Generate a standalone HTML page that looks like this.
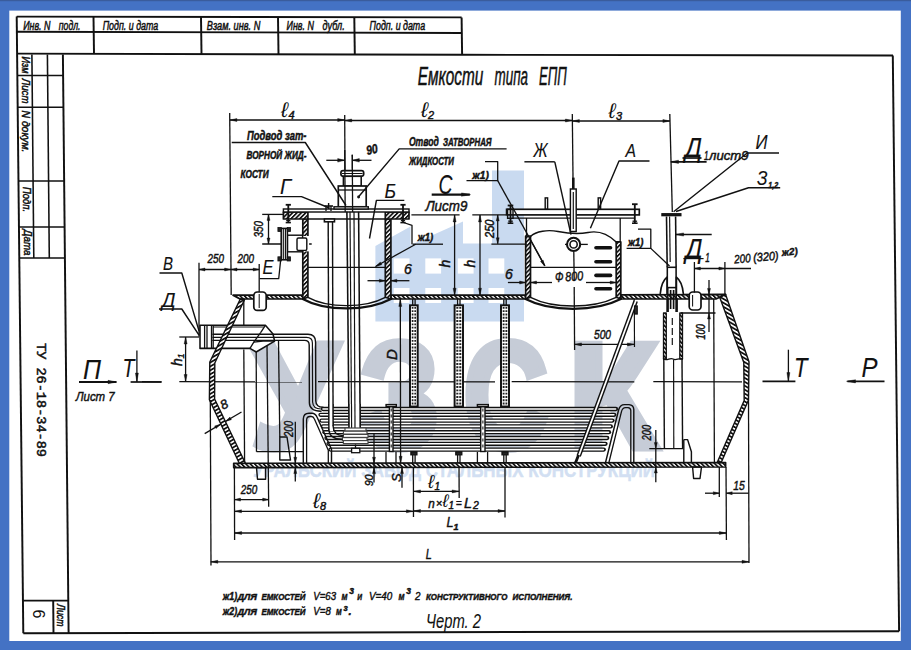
<!DOCTYPE html>
<html><head><meta charset="utf-8"><title>Емкости типа ЕПП</title>
<style>html,body{margin:0;padding:0;background:#4472c4;}body{width:911px;height:650px;overflow:hidden;position:relative;font-family:"Liberation Sans",sans-serif;}</style></head><body>
<svg width="911" height="650" viewBox="0 0 911 650" style="position:absolute;left:0;top:0">
<defs><pattern id="h1" width="3.1" height="3.1" patternUnits="userSpaceOnUse" patternTransform="rotate(45)"><rect width="3.1" height="3.1" fill="#fff"/><line x1="0.8" y1="0" x2="0.8" y2="3.1" stroke="#111" stroke-width="1.85"/></pattern><pattern id="h2" width="3.1" height="3.1" patternUnits="userSpaceOnUse" patternTransform="rotate(-45)"><rect width="3.1" height="3.1" fill="#fff"/><line x1="0.8" y1="0" x2="0.8" y2="3.1" stroke="#111" stroke-width="1.85"/></pattern><pattern id="h3" width="3.4" height="3.4" patternUnits="userSpaceOnUse" patternTransform="rotate(60)"><rect width="3.4" height="3.4" fill="#fff"/><line x1="0.8" y1="0" x2="0.8" y2="3.4" stroke="#111" stroke-width="1.9"/></pattern><pattern id="h4" width="3.4" height="3.4" patternUnits="userSpaceOnUse" patternTransform="rotate(-60)"><rect width="3.4" height="3.4" fill="#fff"/><line x1="0.8" y1="0" x2="0.8" y2="3.4" stroke="#111" stroke-width="1.9"/></pattern></defs>
<rect x="0" y="0" width="911" height="650" fill="#4472c4"/>
<rect x="0" y="0" width="911" height="1.2" fill="#3a5c9c"/>
<rect x="9.3" y="10.6" width="891.5" height="630.4" fill="#fff"/>
<polygon fill="#c9daf0" points="375.4,321.5 375.4,246 410.5,226.5 410.5,245 463,221.5 463,243.6 492,243.6 492,170.5 524,170.5 524,321.5"/>
<g fill="#fff">
<rect x="393.7" y="258.4" width="15.8" height="15.2"/>
<rect x="393.7" y="288" width="15.8" height="15"/>
<rect x="425.3" y="258.4" width="15.8" height="15.2"/>
<rect x="425.3" y="288" width="15.8" height="15"/>
<rect x="457.8" y="258.4" width="15.8" height="15.2"/>
<rect x="457.8" y="288" width="15.8" height="15"/>
<rect x="488.5" y="258.4" width="15.8" height="15.2"/>
<rect x="488.5" y="288" width="15.8" height="15"/>
</g>
<text transform="matrix(1.4108 0 0 1.5044 250.43 447.50)" x="0" y="0" style="font-family:&quot;Liberation Sans&quot;,sans-serif;font-weight:bold;font-size:100.0px" fill="#c6ccd7" stroke="#c6ccd7" stroke-width="4.80" stroke-linejoin="miter">У</text>
<text transform="matrix(1.2722 0 0 1.5044 359.64 447.50)" x="0" y="0" style="font-family:&quot;Liberation Sans&quot;,sans-serif;font-weight:bold;font-size:100.0px" fill="#c6ccd7" stroke="#c6ccd7" stroke-width="5.04" stroke-linejoin="miter">З</text>
<text transform="matrix(1.1624 0 0 1.5044 463.73 447.50)" x="0" y="0" style="font-family:&quot;Liberation Sans&quot;,sans-serif;font-weight:bold;font-size:100.0px" fill="#c6ccd7" stroke="#c6ccd7" stroke-width="5.25" stroke-linejoin="miter">С</text>
<text transform="matrix(1.4589 0 0 1.5044 568.24 447.50)" x="0" y="0" style="font-family:&quot;Liberation Sans&quot;,sans-serif;font-weight:bold;font-size:100.0px" fill="#c6ccd7" stroke="#c6ccd7" stroke-width="4.72" stroke-linejoin="miter">К</text>
<text x="253.0" y="476.5" style="font-family:&quot;Liberation Sans&quot;,sans-serif;font-size:21px;font-weight:bold;" fill="#d2dff2" text-anchor="start" textLength="402.0" lengthAdjust="spacingAndGlyphs" stroke="#d2dff2" stroke-width="0.5">УРАЛЬСКИЙ ЗАВОД СТАЛЬНЫХ КОНСТРУКЦИЙ</text>
<line x1="16.7" y1="16.6" x2="461.6" y2="17.4" stroke="#111" stroke-width="1.95" />
<line x1="16.9" y1="31.8" x2="461.8" y2="32.9" stroke="#111" stroke-width="1.95" />
<polyline points="17.1,53.6 462.0,54.8 893.0,55.4" fill="none" stroke="#111" stroke-width="1.95" stroke-linejoin="round" />
<line x1="93.5" y1="16.7" x2="94.0" y2="53.8" stroke="#111" stroke-width="1.95" />
<line x1="201.0" y1="16.9" x2="201.5" y2="54.1" stroke="#111" stroke-width="1.95" />
<line x1="278.0" y1="17.1" x2="278.5" y2="54.3" stroke="#111" stroke-width="1.95" />
<line x1="354.3" y1="17.2" x2="354.8" y2="54.5" stroke="#111" stroke-width="1.95" />
<line x1="461.6" y1="17.4" x2="462.1" y2="54.8" stroke="#111" stroke-width="1.95" />
<line x1="16.7" y1="16.5" x2="23.3" y2="633.2" stroke="#111" stroke-width="1.95" />
<line x1="62.9" y1="54.5" x2="68.6" y2="633.2" stroke="#111" stroke-width="1.95" />
<line x1="892.8" y1="55.4" x2="899.1" y2="631.2" stroke="#111" stroke-width="1.95" />
<line x1="23.3" y1="633.2" x2="899.1" y2="631.2" stroke="#111" stroke-width="1.95" />
<line x1="31.9" y1="54.5" x2="33.8" y2="258.0" stroke="#111" stroke-width="1.56" />
<line x1="47.4" y1="54.5" x2="49.3" y2="258.0" stroke="#111" stroke-width="1.56" />
<line x1="17.3" y1="75.5" x2="63.1" y2="75.5" stroke="#111" stroke-width="1.56" />
<line x1="17.6" y1="107.3" x2="63.4" y2="107.3" stroke="#111" stroke-width="1.56" />
<line x1="18.3" y1="181.0" x2="64.1" y2="181.0" stroke="#111" stroke-width="1.56" />
<line x1="18.7" y1="227.0" x2="64.5" y2="227.0" stroke="#111" stroke-width="1.56" />
<line x1="19.0" y1="258.0" x2="64.8" y2="258.0" stroke="#111" stroke-width="1.56" />
<line x1="23.1" y1="600.6" x2="68.8" y2="600.6" stroke="#111" stroke-width="1.95" />
<line x1="53.2" y1="600.6" x2="53.5" y2="633.0" stroke="#111" stroke-width="1.95" />
<text x="23.2" y="29.6" style="font-family:&quot;Liberation Sans&quot;,sans-serif;font-size:12.5px;font-style:italic;" fill="#111" text-anchor="start" textLength="27.3" lengthAdjust="spacingAndGlyphs" stroke="#111" stroke-width="0.5">Инв. N</text>
<text x="58.8" y="29.6" style="font-family:&quot;Liberation Sans&quot;,sans-serif;font-size:12.5px;font-style:italic;" fill="#111" text-anchor="start" textLength="21.7" lengthAdjust="spacingAndGlyphs" stroke="#111" stroke-width="0.5">подл.</text>
<text x="102.7" y="29.6" style="font-family:&quot;Liberation Sans&quot;,sans-serif;font-size:12.5px;font-style:italic;" fill="#111" text-anchor="start" textLength="55.5" lengthAdjust="spacingAndGlyphs" stroke="#111" stroke-width="0.5">Подп. и дата</text>
<text x="206.8" y="29.6" style="font-family:&quot;Liberation Sans&quot;,sans-serif;font-size:12.5px;font-style:italic;" fill="#111" text-anchor="start" textLength="53.5" lengthAdjust="spacingAndGlyphs" stroke="#111" stroke-width="0.5">Взам. инв. N</text>
<text x="286.6" y="29.6" style="font-family:&quot;Liberation Sans&quot;,sans-serif;font-size:12.5px;font-style:italic;" fill="#111" text-anchor="start" textLength="27.3" lengthAdjust="spacingAndGlyphs" stroke="#111" stroke-width="0.5">Инв. N</text>
<text x="322.5" y="29.6" style="font-family:&quot;Liberation Sans&quot;,sans-serif;font-size:12.5px;font-style:italic;" fill="#111" text-anchor="start" textLength="22.3" lengthAdjust="spacingAndGlyphs" stroke="#111" stroke-width="0.5">дубл.</text>
<text x="369.6" y="29.6" style="font-family:&quot;Liberation Sans&quot;,sans-serif;font-size:12.5px;font-style:italic;" fill="#111" text-anchor="start" textLength="55.5" lengthAdjust="spacingAndGlyphs" stroke="#111" stroke-width="0.5">Подп. и дата</text>
<text x="21.5" y="56.5" style="font-family:&quot;Liberation Sans&quot;,sans-serif;font-size:11.5px;font-style:italic;" fill="#111" text-anchor="start" textLength="17.0" lengthAdjust="spacingAndGlyphs" transform="rotate(90 21.5 56.5)" stroke="#111" stroke-width="0.5">Изм</text>
<text x="22.0" y="78.5" style="font-family:&quot;Liberation Sans&quot;,sans-serif;font-size:11.5px;font-style:italic;" fill="#111" text-anchor="start" textLength="25.0" lengthAdjust="spacingAndGlyphs" transform="rotate(90 22.0 78.5)" stroke="#111" stroke-width="0.5">Лист</text>
<text x="22.3" y="110.5" style="font-family:&quot;Liberation Sans&quot;,sans-serif;font-size:11.5px;font-style:italic;" fill="#111" text-anchor="start" textLength="42.0" lengthAdjust="spacingAndGlyphs" transform="rotate(90 22.3 110.5)" stroke="#111" stroke-width="0.5">N докум.</text>
<text x="23.0" y="187.0" style="font-family:&quot;Liberation Sans&quot;,sans-serif;font-size:11.5px;font-style:italic;" fill="#111" text-anchor="start" textLength="25.0" lengthAdjust="spacingAndGlyphs" transform="rotate(90 23.0 187.0)" stroke="#111" stroke-width="0.5">Подп.</text>
<text x="23.5" y="229.5" style="font-family:&quot;Liberation Sans&quot;,sans-serif;font-size:11.5px;font-style:italic;" fill="#111" text-anchor="start" textLength="26.0" lengthAdjust="spacingAndGlyphs" transform="rotate(90 23.5 229.5)" stroke="#111" stroke-width="0.5">Дата</text>
<text x="56.5" y="604.0" style="font-family:&quot;Liberation Sans&quot;,sans-serif;font-size:10.5px;font-style:italic;" fill="#111" text-anchor="start" textLength="22.5" lengthAdjust="spacingAndGlyphs" transform="rotate(90 56.5 604.0)" stroke="#111" stroke-width="0.5">Лист</text>
<text x="33.0" y="609.5" style="font-family:&quot;Liberation Sans&quot;,sans-serif;font-size:16px;" fill="#111" text-anchor="start" transform="rotate(90 33.0 609.5)" >6</text>
<text x="36.5" y="343.0" style="font-family:&quot;Liberation Mono&quot;,sans-serif;font-size:13.6px;" fill="#111" text-anchor="start" textLength="114.0" lengthAdjust="spacingAndGlyphs" transform="rotate(90 36.5 343.0)" stroke="#111" stroke-width="0.5">ТУ 26-18-34-89</text>
<text x="417.7" y="84.8" style="font-family:&quot;Liberation Sans&quot;,sans-serif;font-size:25.5px;font-style:italic;" fill="#111" text-anchor="start" textLength="65.5" lengthAdjust="spacingAndGlyphs" stroke="#111" stroke-width="0.5">Емкости</text>
<text x="494.5" y="84.8" style="font-family:&quot;Liberation Sans&quot;,sans-serif;font-size:25.5px;font-style:italic;" fill="#111" text-anchor="start" textLength="33.5" lengthAdjust="spacingAndGlyphs" stroke="#111" stroke-width="0.5">типа</text>
<text x="539.0" y="84.8" style="font-family:&quot;Liberation Sans&quot;,sans-serif;font-size:25.5px;font-style:italic;" fill="#111" text-anchor="start" textLength="27.8" lengthAdjust="spacingAndGlyphs" stroke="#111" stroke-width="0.5">ЕПП</text>
<polygon points="233.0,295.2 302.8,295.2 302.8,299.0 240.0,299.0" fill="url(#h2)" stroke="#111" stroke-width="1.69" stroke-linejoin="round" />
<polygon points="390.9,295.2 525.6,295.2 525.6,299.0 390.9,299.0" fill="url(#h2)" stroke="#111" stroke-width="1.69" stroke-linejoin="round" />
<polygon points="620.8,294.8 725.6,294.4 716.0,299.0 620.8,299.0" fill="url(#h2)" stroke="#111" stroke-width="1.69" stroke-linejoin="round" />
<polygon points="233.7,463.3 725.6,462.5 725.6,467.0 233.7,467.6" fill="url(#h2)" stroke="#111" stroke-width="1.69" stroke-linejoin="round" />
<line x1="229.7" y1="113.0" x2="231.2" y2="295.0" stroke="#111" stroke-width="1.30" />
<line x1="344.7" y1="115.0" x2="345.2" y2="212.0" stroke="#111" stroke-width="1.30" />
<line x1="572.3" y1="114.0" x2="573.6" y2="232.0" stroke="#111" stroke-width="1.30" />
<line x1="573.8" y1="252.0" x2="574.2" y2="281.0" stroke="#111" stroke-width="1.30" />
<line x1="574.2" y1="287.0" x2="574.6" y2="350.0" stroke="#111" stroke-width="1.30" />
<line x1="669.8" y1="114.0" x2="672.3" y2="212.0" stroke="#111" stroke-width="1.30" />
<line x1="229.9" y1="120.0" x2="344.7" y2="120.0" stroke="#111" stroke-width="1.30" />
<polygon points="229.9,120.0 236.9,118.5 236.9,121.5" fill="#111" stroke="#111" stroke-width="0.4"/>
<polygon points="344.7,120.0 337.7,121.5 337.7,118.5" fill="#111" stroke="#111" stroke-width="0.4"/>
<line x1="344.7" y1="120.5" x2="572.4" y2="120.5" stroke="#111" stroke-width="1.30" />
<polygon points="344.7,120.5 351.7,119.0 351.7,122.0" fill="#111" stroke="#111" stroke-width="0.4"/>
<polygon points="572.4,120.5 565.4,122.0 565.4,119.0" fill="#111" stroke="#111" stroke-width="0.4"/>
<line x1="572.4" y1="121.0" x2="669.9" y2="121.0" stroke="#111" stroke-width="1.30" />
<polygon points="572.4,121.0 579.4,119.5 579.4,122.5" fill="#111" stroke="#111" stroke-width="0.4"/>
<polygon points="669.9,121.0 662.9,122.5 662.9,119.5" fill="#111" stroke="#111" stroke-width="0.4"/>
<text x="281.0" y="116.5" style="font-family:&quot;Liberation Sans&quot;,sans-serif;font-size:21px;font-style:italic;" fill="#111" text-anchor="start" stroke="#111" stroke-width="0.0">ℓ</text>
<text x="288.5" y="118.5" style="font-family:&quot;Liberation Sans&quot;,sans-serif;font-size:11px;font-style:italic;" fill="#111" text-anchor="start" stroke="#111" stroke-width="0.45">4</text>
<text x="421.0" y="116.5" style="font-family:&quot;Liberation Sans&quot;,sans-serif;font-size:21px;font-style:italic;" fill="#111" text-anchor="start" stroke="#111" stroke-width="0.0">ℓ</text>
<text x="428.0" y="118.5" style="font-family:&quot;Liberation Sans&quot;,sans-serif;font-size:11px;font-style:italic;" fill="#111" text-anchor="start" stroke="#111" stroke-width="0.45">2</text>
<text x="608.5" y="117.5" style="font-family:&quot;Liberation Sans&quot;,sans-serif;font-size:21px;font-style:italic;" fill="#111" text-anchor="start" stroke="#111" stroke-width="0.0">ℓ</text>
<text x="616.0" y="119.5" style="font-family:&quot;Liberation Sans&quot;,sans-serif;font-size:11px;font-style:italic;" fill="#111" text-anchor="start" stroke="#111" stroke-width="0.45">3</text>
<line x1="352.3" y1="154.7" x2="352.6" y2="212.0" stroke="#111" stroke-width="1.30" />
<line x1="326.3" y1="160.3" x2="344.7" y2="160.3" stroke="#111" stroke-width="1.30" />
<polygon points="344.7,160.3 337.7,162.1 337.7,158.5" fill="#111" stroke="#111" stroke-width="0.4"/>
<line x1="352.3" y1="160.3" x2="371.5" y2="160.3" stroke="#111" stroke-width="1.30" />
<polygon points="352.3,160.3 359.3,158.5 359.3,162.1" fill="#111" stroke="#111" stroke-width="0.4"/>
<text x="367.2" y="155.0" style="font-family:&quot;Liberation Sans&quot;,sans-serif;font-size:13px;font-style:italic;font-weight:bold;" fill="#111" text-anchor="start" textLength="11.5" lengthAdjust="spacingAndGlyphs" transform="rotate(-12 367.2 155.0)" stroke="#111" stroke-width="0.45">90</text>
<polygon points="302.8,219.0 307.9,219.0 307.9,297.2 302.8,299.0" fill="url(#h1)" stroke="#111" stroke-width="1.69" stroke-linejoin="round" />
<polygon points="385.3,219.0 390.9,219.0 390.9,299.0 385.3,297.2" fill="url(#h1)" stroke="#111" stroke-width="1.69" stroke-linejoin="round" />
<polygon points="283.4,212.0 307.9,212.0 307.9,219.0 283.4,219.0" fill="url(#h1)" stroke="#111" stroke-width="1.69" stroke-linejoin="round" />
<polygon points="385.3,212.0 409.0,212.0 409.0,219.0 385.3,219.0" fill="url(#h1)" stroke="#111" stroke-width="1.69" stroke-linejoin="round" />
<rect x="283.4" y="209.0" width="125.6" height="3.0" rx="0" fill="#fff" stroke="#111" stroke-width="1.43"/>
<line x1="307.9" y1="219.0" x2="385.3" y2="219.0" stroke="#111" stroke-width="1.30" />
<line x1="288.3" y1="204.8" x2="288.3" y2="222.6" stroke="#111" stroke-width="1.82" />
<line x1="285.7" y1="204.8" x2="290.9" y2="204.8" stroke="#111" stroke-width="1.82" />
<line x1="285.7" y1="222.6" x2="290.9" y2="222.6" stroke="#111" stroke-width="1.56" />
<line x1="286.2" y1="220.6" x2="290.4" y2="220.6" stroke="#111" stroke-width="1.30" />
<line x1="403.0" y1="204.8" x2="403.0" y2="222.6" stroke="#111" stroke-width="1.82" />
<line x1="400.4" y1="204.8" x2="405.6" y2="204.8" stroke="#111" stroke-width="1.82" />
<line x1="400.4" y1="222.6" x2="405.6" y2="222.6" stroke="#111" stroke-width="1.56" />
<line x1="400.9" y1="220.6" x2="405.1" y2="220.6" stroke="#111" stroke-width="1.30" />
<line x1="307.9" y1="267.3" x2="385.3" y2="267.3" stroke="#111" stroke-width="1.30" />
<path d="M302.8 299 C316 306.4 331 308.4 346.5 308.4 C362 308.4 377 306.4 390.9 299" fill="none" stroke="#111" stroke-width="2.21" stroke-linejoin="round" stroke-linecap="round" />
<path d="M307.9 297.3 C320 304 333 305.6 346.5 305.6 C360 305.6 373 304 385.3 297.3" fill="none" stroke="#111" stroke-width="1.43" stroke-linejoin="round" stroke-linecap="round" />
<line x1="367.5" y1="280.7" x2="385.3" y2="280.7" stroke="#111" stroke-width="1.30" />
<polygon points="385.3,280.7 379.3,282.2 379.3,279.2" fill="#111" stroke="#111" stroke-width="0.4"/>
<line x1="390.9" y1="280.7" x2="409.4" y2="280.7" stroke="#111" stroke-width="1.30" />
<polygon points="390.9,280.7 396.9,279.2 396.9,282.2" fill="#111" stroke="#111" stroke-width="0.4"/>
<text x="404.0" y="274.0" style="font-family:&quot;Liberation Sans&quot;,sans-serif;font-size:14px;font-style:italic;" fill="#111" text-anchor="start" stroke="#111" stroke-width="0.45">6</text>
<rect x="340.9" y="170.7" width="22.8" height="5.6" rx="2.2" fill="#fff" stroke="#111" stroke-width="1.69"/>
<line x1="342.0" y1="173.5" x2="362.6" y2="173.5" stroke="#111" stroke-width="1.04" />
<rect x="343.4" y="176.3" width="17.8" height="9.7" rx="0" fill="#fff" stroke="#111" stroke-width="1.56"/>
<rect x="338.3" y="186.0" width="27.9" height="20.8" rx="0" fill="#fff" stroke="#111" stroke-width="1.69"/>
<rect x="334.0" y="206.8" width="34.3" height="2.2" rx="0" fill="#fff" stroke="#111" stroke-width="1.43"/>
<line x1="338.3" y1="190.0" x2="366.2" y2="190.0" stroke="#111" stroke-width="1.30" />
<line x1="344.7" y1="150.0" x2="345.2" y2="212.0" stroke="#111" stroke-width="1.30" />
<line x1="352.3" y1="154.7" x2="352.6" y2="212.0" stroke="#111" stroke-width="1.30" />
<circle cx="358.6" cy="197.0" r="0.9" fill="#111" stroke="#111" stroke-width="1.04"/>
<line x1="262.2" y1="214.4" x2="283.8" y2="214.4" stroke="#111" stroke-width="1.30" />
<line x1="262.2" y1="244.0" x2="311.7" y2="244.0" stroke="#111" stroke-width="1.30" />
<line x1="268.5" y1="214.4" x2="268.5" y2="244.0" stroke="#111" stroke-width="1.30" />
<polygon points="268.5,214.4 270.0,220.4 267.0,220.4" fill="#111" stroke="#111" stroke-width="0.4"/>
<polygon points="268.5,244.0 267.0,238.0 270.0,238.0" fill="#111" stroke="#111" stroke-width="0.4"/>
<text x="262.5" y="237.5" style="font-family:&quot;Liberation Sans&quot;,sans-serif;font-size:12px;font-style:italic;" fill="#111" text-anchor="start" textLength="16.5" lengthAdjust="spacingAndGlyphs" transform="rotate(-90 262.5 237.5)" stroke="#111" stroke-width="0.45">350</text>
<rect x="301.5" y="236" width="7.6" height="15.4" fill="#fff"/>
<rect x="287.4" y="235.2" width="15.2" height="16.6" rx="0" fill="#fff" stroke="#111" stroke-width="1.43"/>
<rect x="297.0" y="238.0" width="9.8" height="12.4" rx="1.5" fill="#fff" stroke="#111" stroke-width="1.43"/>
<rect x="281.2" y="228.4" width="6.2" height="31.4" rx="0" fill="#fff" stroke="#111" stroke-width="1.56"/>
<line x1="283.3" y1="228.4" x2="283.3" y2="259.8" stroke="#111" stroke-width="1.17" />
<line x1="285.4" y1="228.4" x2="285.4" y2="259.8" stroke="#111" stroke-width="1.17" />
<rect x="277.9" y="227.4" width="3.4" height="4.2" rx="0" fill="#222" stroke="#111" stroke-width="0.78"/>
<rect x="287.2" y="227.4" width="3.4" height="4.2" rx="0" fill="#222" stroke="#111" stroke-width="0.78"/>
<rect x="277.9" y="256.8" width="3.4" height="4.2" rx="0" fill="#222" stroke="#111" stroke-width="0.78"/>
<rect x="287.2" y="256.8" width="3.4" height="4.2" rx="0" fill="#222" stroke="#111" stroke-width="0.78"/>
<rect x="324.4" y="219.0" width="10.1" height="2.8" rx="0" fill="#fff" stroke="#111" stroke-width="1.56"/>
<line x1="328.6" y1="203.0" x2="328.6" y2="209.0" stroke="#111" stroke-width="1.43" />
<line x1="326.0" y1="206.0" x2="326.0" y2="211.0" stroke="#111" stroke-width="1.30" />
<line x1="331.0" y1="206.0" x2="331.0" y2="211.0" stroke="#111" stroke-width="1.30" />
<line x1="324.5" y1="206.0" x2="333.0" y2="206.0" stroke="#111" stroke-width="1.56" />
<line x1="328.2" y1="221.8" x2="328.9" y2="430.0" stroke="#111" stroke-width="1.43" />
<line x1="332.5" y1="221.8" x2="333.1" y2="426.0" stroke="#111" stroke-width="1.43" />
<line x1="346.9" y1="211.8" x2="349.0" y2="428.0" stroke="#111" stroke-width="1.56" />
<line x1="350.0" y1="211.8" x2="351.6" y2="428.0" stroke="#111" stroke-width="1.17" />
<line x1="354.0" y1="211.8" x2="355.0" y2="428.0" stroke="#111" stroke-width="1.17" />
<line x1="358.6" y1="211.8" x2="360.2" y2="428.0" stroke="#111" stroke-width="1.56" />
<polygon points="525.6,236.0 530.5,236.0 530.5,297.3 525.6,299.0" fill="url(#h1)" stroke="#111" stroke-width="1.69" stroke-linejoin="round" />
<polygon points="616.2,241.9 620.8,241.9 620.8,299.0 616.2,297.3" fill="url(#h1)" stroke="#111" stroke-width="1.69" stroke-linejoin="round" />
<line x1="526.5" y1="218.0" x2="526.5" y2="236.0" stroke="#111" stroke-width="1.30" />
<line x1="620.2" y1="218.0" x2="620.2" y2="242.0" stroke="#111" stroke-width="1.30" />
<rect x="506.6" y="209.3" width="132.7" height="5.6" rx="0" fill="#fff" stroke="#111" stroke-width="1.69"/>
<line x1="513.0" y1="218.2" x2="634.0" y2="218.2" stroke="#111" stroke-width="1.30" />
<line x1="510.5" y1="205.5" x2="510.5" y2="223.2" stroke="#111" stroke-width="1.82" />
<line x1="507.7" y1="205.5" x2="513.3" y2="205.5" stroke="#111" stroke-width="1.82" />
<line x1="507.7" y1="223.2" x2="513.3" y2="223.2" stroke="#111" stroke-width="1.56" />
<line x1="508.2" y1="221.2" x2="512.8" y2="221.2" stroke="#111" stroke-width="1.30" />
<line x1="634.8" y1="204.2" x2="634.8" y2="223.2" stroke="#111" stroke-width="1.82" />
<line x1="632.0" y1="204.2" x2="637.6" y2="204.2" stroke="#111" stroke-width="1.82" />
<line x1="632.0" y1="223.2" x2="637.6" y2="223.2" stroke="#111" stroke-width="1.56" />
<line x1="632.5" y1="221.2" x2="637.1" y2="221.2" stroke="#111" stroke-width="1.30" />
<rect x="507.6" y="209.3" width="5.4" height="9.0" rx="0" fill="none" stroke="#111" stroke-width="1.43"/>
<rect x="545.2" y="197.9" width="2.4" height="11.4" rx="0" fill="none" stroke="#111" stroke-width="1.43"/>
<rect x="598.2" y="197.9" width="2.4" height="11.4" rx="0" fill="none" stroke="#111" stroke-width="1.43"/>
<rect x="570.4" y="189.0" width="5.8" height="42.5" rx="0" fill="#fff" stroke="#111" stroke-width="1.43"/>
<line x1="573.3" y1="177.6" x2="573.3" y2="189.0" stroke="#111" stroke-width="2.60" />
<line x1="573.3" y1="192.0" x2="573.3" y2="229.0" stroke="#111" stroke-width="1.17" />
<path d="M530.5 236.5 C536 231 548 229.5 558 231.5 C568 233.5 578 234.5 588 232.5 C600 230 610 236 616.2 242" fill="none" stroke="#111" stroke-width="1.43" stroke-linejoin="round" stroke-linecap="round" />
<line x1="491.4" y1="244.2" x2="527.0" y2="244.2" stroke="#111" stroke-width="1.30" />
<line x1="565.0" y1="244.4" x2="587.8" y2="244.4" stroke="#111" stroke-width="1.30" />
<circle cx="573.6" cy="244.4" r="6.6" fill="#fff" stroke="#111" stroke-width="2.08"/>
<circle cx="573.6" cy="244.4" r="3.6" fill="none" stroke="#111" stroke-width="1.56"/>
<line x1="530.5" y1="267.3" x2="616.2" y2="267.3" stroke="#111" stroke-width="1.30" />
<line x1="529.4" y1="238.0" x2="544.3" y2="265.2" stroke="#111" stroke-width="1.30" />
<polygon points="544.7,266.0 540.5,261.5 543.1,260.0" fill="#111" stroke="#111" stroke-width="0.4"/>
<line x1="596.0" y1="247.7" x2="610.5" y2="247.7" stroke="#111" stroke-width="3.64" stroke-linecap="round"/>
<line x1="596.0" y1="261.7" x2="610.5" y2="261.7" stroke="#111" stroke-width="3.64" stroke-linecap="round"/>
<line x1="596.0" y1="275.4" x2="610.5" y2="275.4" stroke="#111" stroke-width="3.64" stroke-linecap="round"/>
<line x1="596.0" y1="288.8" x2="610.5" y2="288.8" stroke="#111" stroke-width="3.64" stroke-linecap="round"/>
<path d="M525.6 299 C540 306.6 556 308.8 573 308.8 C590 308.8 606 306.6 620.8 299" fill="none" stroke="#111" stroke-width="2.21" stroke-linejoin="round" stroke-linecap="round" />
<path d="M530.5 297.3 C544 304.2 558 306 573 306 C588 306 602 304.2 616.2 297.3" fill="none" stroke="#111" stroke-width="1.43" stroke-linejoin="round" stroke-linecap="round" />
<line x1="472.3" y1="214.9" x2="506.0" y2="214.9" stroke="#111" stroke-width="1.30" />
<line x1="497.7" y1="214.9" x2="497.7" y2="243.8" stroke="#111" stroke-width="1.30" />
<polygon points="497.7,214.9 499.2,220.9 496.2,220.9" fill="#111" stroke="#111" stroke-width="0.4"/>
<polygon points="497.7,243.8 496.2,237.8 499.2,237.8" fill="#111" stroke="#111" stroke-width="0.4"/>
<text x="494.0" y="238.0" style="font-family:&quot;Liberation Sans&quot;,sans-serif;font-size:12px;font-style:italic;" fill="#111" text-anchor="start" textLength="18.5" lengthAdjust="spacingAndGlyphs" transform="rotate(-90 494.0 238.0)" stroke="#111" stroke-width="0.45">250</text>
<line x1="411.4" y1="214.9" x2="459.6" y2="214.9" stroke="#111" stroke-width="1.30" />
<line x1="454.6" y1="214.9" x2="454.6" y2="295.2" stroke="#111" stroke-width="1.30" />
<polygon points="454.6,214.9 456.1,221.9 453.1,221.9" fill="#111" stroke="#111" stroke-width="0.4"/>
<polygon points="454.6,295.2 453.1,288.2 456.1,288.2" fill="#111" stroke="#111" stroke-width="0.4"/>
<line x1="480.0" y1="214.9" x2="480.0" y2="295.2" stroke="#111" stroke-width="1.30" />
<polygon points="480.0,214.9 481.5,221.9 478.5,221.9" fill="#111" stroke="#111" stroke-width="0.4"/>
<polygon points="480.0,295.2 478.5,288.2 481.5,288.2" fill="#111" stroke="#111" stroke-width="0.4"/>
<text x="449.5" y="267.5" style="font-family:&quot;Liberation Sans&quot;,sans-serif;font-size:14px;font-style:italic;" fill="#111" text-anchor="start" transform="rotate(-90 449.5 267.5)" stroke="#111" stroke-width="0.45">h</text>
<text x="475.0" y="267.5" style="font-family:&quot;Liberation Sans&quot;,sans-serif;font-size:14px;font-style:italic;" fill="#111" text-anchor="start" transform="rotate(-90 475.0 267.5)" stroke="#111" stroke-width="0.45">h</text>
<text x="505.0" y="279.0" style="font-family:&quot;Liberation Sans&quot;,sans-serif;font-size:14px;font-style:italic;" fill="#111" text-anchor="start" stroke="#111" stroke-width="0.45">6</text>
<line x1="507.9" y1="282.5" x2="525.6" y2="282.5" stroke="#111" stroke-width="1.30" />
<polygon points="525.6,282.5 519.6,284.0 519.6,281.0" fill="#111" stroke="#111" stroke-width="0.4"/>
<line x1="530.5" y1="282.5" x2="552.0" y2="282.5" stroke="#111" stroke-width="1.30" />
<polygon points="530.5,282.5 536.5,281.0 536.5,284.0" fill="#111" stroke="#111" stroke-width="0.4"/>
<line x1="586.0" y1="282.5" x2="616.2" y2="282.5" stroke="#111" stroke-width="1.30" />
<polygon points="616.2,282.5 610.2,284.0 610.2,281.0" fill="#111" stroke="#111" stroke-width="0.4"/>
<text x="555.0" y="282.3" style="font-family:&quot;Liberation Sans&quot;,sans-serif;font-size:14px;font-style:italic;" fill="#111" text-anchor="start" textLength="8.5" lengthAdjust="spacingAndGlyphs" stroke="#111" stroke-width="0.45">Ф</text>
<text x="565.5" y="281.3" style="font-family:&quot;Liberation Sans&quot;,sans-serif;font-size:13px;font-style:italic;" fill="#111" text-anchor="start" textLength="18.0" lengthAdjust="spacingAndGlyphs" transform="rotate(-4 565.5 281.3)" stroke="#111" stroke-width="0.45">800</text>
<line x1="634.3" y1="299.0" x2="634.5" y2="347.0" stroke="#111" stroke-width="1.17" />
<line x1="574.5" y1="344.4" x2="634.4" y2="344.4" stroke="#111" stroke-width="1.30" />
<polygon points="574.5,344.4 581.5,342.9 581.5,345.9" fill="#111" stroke="#111" stroke-width="0.4"/>
<polygon points="634.4,344.4 627.4,345.9 627.4,342.9" fill="#111" stroke="#111" stroke-width="0.4"/>
<text x="594.0" y="339.0" style="font-family:&quot;Liberation Sans&quot;,sans-serif;font-size:13px;font-style:italic;" fill="#111" text-anchor="start" textLength="17.0" lengthAdjust="spacingAndGlyphs" stroke="#111" stroke-width="0.45">500</text>
<rect x="662.0" y="213.8" width="18.8" height="1.8" rx="0" fill="#222" stroke="#111" stroke-width="1.43"/>
<line x1="666.5" y1="216.4" x2="667.2" y2="267.3" stroke="#111" stroke-width="1.56" />
<line x1="675.6" y1="216.4" x2="676.1" y2="267.3" stroke="#111" stroke-width="1.56" />
<line x1="669.6" y1="216.4" x2="670.2" y2="262.0" stroke="#111" stroke-width="1.17" />
<rect x="667.3" y="267.3" width="8.8" height="20.3" rx="0" fill="#fff" stroke="#111" stroke-width="1.56"/>
<path d="M660.3 293.5 C661 286 663.5 280 667 277.2 L667 293.5" fill="#fff" stroke="#111" stroke-width="1.69" stroke-linejoin="round" stroke-linecap="round" />
<path d="M683.3 293.5 C682.6 286 680 280 676.4 277.2 L676.4 293.5" fill="#fff" stroke="#111" stroke-width="1.69" stroke-linejoin="round" stroke-linecap="round" />
<line x1="667.8" y1="287.6" x2="667.8" y2="299.0" stroke="#111" stroke-width="1.56" />
<line x1="676.2" y1="287.6" x2="676.2" y2="299.0" stroke="#111" stroke-width="1.56" />
<line x1="667.6" y1="299.0" x2="667.6" y2="312.0" stroke="#111" stroke-width="2.60" />
<line x1="676.6" y1="299.0" x2="676.6" y2="312.0" stroke="#111" stroke-width="2.60" />
<line x1="670.6" y1="290.0" x2="670.6" y2="309.0" stroke="#111" stroke-width="1.69" />
<line x1="673.6" y1="290.0" x2="673.6" y2="309.0" stroke="#111" stroke-width="1.69" />
<polygon points="663.5,313.0 666.3,313.0 666.3,359.0 663.5,359.0" fill="url(#h2)" stroke="#111" stroke-width="1.30" stroke-linejoin="round" />
<polygon points="679.8,313.0 682.5,313.0 682.5,359.0 679.8,359.0" fill="url(#h2)" stroke="#111" stroke-width="1.30" stroke-linejoin="round" />
<path d="M663.5 359 C667 361.5 670 357 673 359 C676 361 679 357.5 682.5 359" fill="none" stroke="#111" stroke-width="1.30" stroke-linejoin="round" stroke-linecap="round" />
<line x1="672.3" y1="318.0" x2="672.3" y2="348.0" stroke="#111" stroke-width="1.17" stroke-dasharray="7 3"/>
<line x1="663.8" y1="359.0" x2="664.4" y2="448.6" stroke="#111" stroke-width="1.43" />
<line x1="673.6" y1="360.0" x2="673.8" y2="448.6" stroke="#111" stroke-width="1.17" />
<line x1="682.0" y1="359.0" x2="682.6" y2="448.6" stroke="#111" stroke-width="1.43" />
<line x1="649.3" y1="448.6" x2="683.0" y2="448.6" stroke="#111" stroke-width="1.43" />
<polyline points="683.8,439.6 687.6,439.6 691.4,451.8 691.4,462.5" fill="none" stroke="#111" stroke-width="1.43" stroke-linejoin="round" />
<line x1="683.8" y1="439.6" x2="683.8" y2="462.5" stroke="#111" stroke-width="1.43" />
<polygon points="692.6,467.0 701.5,467.0 700.0,478.5 693.6,478.5" fill="none" stroke="#111" stroke-width="1.43" stroke-linejoin="round" />
<line x1="655.8" y1="430.0" x2="655.8" y2="482.3" stroke="#111" stroke-width="1.30" />
<polygon points="655.8,448.6 654.3,442.6 657.3,442.6" fill="#111" stroke="#111" stroke-width="0.4"/>
<polygon points="655.8,467.0 657.3,473.0 654.3,473.0" fill="#111" stroke="#111" stroke-width="0.4"/>
<text x="651.0" y="440.4" style="font-family:&quot;Liberation Sans&quot;,sans-serif;font-size:12px;font-style:italic;" fill="#111" text-anchor="start" textLength="15.5" lengthAdjust="spacingAndGlyphs" transform="rotate(-90 651.0 440.4)" stroke="#111" stroke-width="0.45">200</text>
<rect x="689.2" y="292.0" width="11.8" height="18.0" rx="3.5" fill="#fff" stroke="#111" stroke-width="1.69"/>
<line x1="692.6" y1="295.0" x2="692.6" y2="306.5" stroke="#111" stroke-width="1.04" />
<line x1="681.0" y1="313.0" x2="715.5" y2="313.0" stroke="#111" stroke-width="1.30" />
<line x1="709.0" y1="280.0" x2="709.0" y2="332.0" stroke="#111" stroke-width="1.30" />
<polygon points="709.0,294.4 707.5,288.4 710.5,288.4" fill="#111" stroke="#111" stroke-width="0.4"/>
<polygon points="709.0,313.0 710.5,319.0 707.5,319.0" fill="#111" stroke="#111" stroke-width="0.4"/>
<text x="705.0" y="339.6" style="font-family:&quot;Liberation Sans&quot;,sans-serif;font-size:12px;font-style:italic;" fill="#111" text-anchor="start" textLength="15.5" lengthAdjust="spacingAndGlyphs" transform="rotate(-90 705.0 339.6)" stroke="#111" stroke-width="0.45">100</text>
<line x1="713.7" y1="299.0" x2="714.4" y2="462.5" stroke="#111" stroke-width="1.30" />
<line x1="748.5" y1="400.0" x2="749.0" y2="563.0" stroke="#111" stroke-width="1.30" />
<line x1="719.3" y1="467.0" x2="719.3" y2="497.0" stroke="#111" stroke-width="1.30" />
<line x1="726.0" y1="467.0" x2="726.2" y2="497.0" stroke="#111" stroke-width="1.30" />
<text x="733.2" y="490.0" style="font-family:&quot;Liberation Sans&quot;,sans-serif;font-size:13px;font-style:italic;" fill="#111" text-anchor="start" textLength="11.5" lengthAdjust="spacingAndGlyphs" stroke="#111" stroke-width="0.45">15</text>
<line x1="705.0" y1="493.2" x2="719.3" y2="493.2" stroke="#111" stroke-width="1.30" />
<polygon points="719.3,493.2 713.3,494.7 713.3,491.7" fill="#111" stroke="#111" stroke-width="0.4"/>
<line x1="726.2" y1="493.2" x2="748.8" y2="493.2" stroke="#111" stroke-width="1.30" />
<polygon points="726.2,493.2 732.2,491.7 732.2,494.7" fill="#111" stroke="#111" stroke-width="0.4"/>
<text x="247.0" y="139.5" style="font-family:&quot;Liberation Sans&quot;,sans-serif;font-size:12.5px;font-style:italic;font-weight:bold;" fill="#111" text-anchor="start" textLength="59.5" lengthAdjust="spacingAndGlyphs" stroke="#111" stroke-width="0.45">Подвод зат-</text>
<text x="246.5" y="158.5" style="font-family:&quot;Liberation Sans&quot;,sans-serif;font-size:10px;font-style:italic;font-weight:bold;" fill="#111" text-anchor="start" textLength="60.0" lengthAdjust="spacingAndGlyphs" stroke="#111" stroke-width="0.45">ВОРНОЙ ЖИД-</text>
<text x="240.6" y="177.5" style="font-family:&quot;Liberation Sans&quot;,sans-serif;font-size:10px;font-style:italic;font-weight:bold;" fill="#111" text-anchor="start" textLength="28.0" lengthAdjust="spacingAndGlyphs" stroke="#111" stroke-width="0.45">КОСТИ</text>
<polyline points="231.7,142.5 305.3,142.5 346.0,205.5" fill="none" stroke="#111" stroke-width="1.43" stroke-linejoin="round" />
<text x="408.9" y="145.5" style="font-family:&quot;Liberation Sans&quot;,sans-serif;font-size:12.5px;font-style:italic;font-weight:bold;" fill="#111" text-anchor="start" textLength="30.0" lengthAdjust="spacingAndGlyphs" stroke="#111" stroke-width="0.45">Отвод</text>
<text x="443.0" y="145.5" style="font-family:&quot;Liberation Sans&quot;,sans-serif;font-size:10.5px;font-style:italic;font-weight:bold;" fill="#111" text-anchor="start" textLength="48.5" lengthAdjust="spacingAndGlyphs" stroke="#111" stroke-width="0.45">ЗАТВОРНАЯ</text>
<text x="408.9" y="164.9" style="font-family:&quot;Liberation Sans&quot;,sans-serif;font-size:10px;font-style:italic;font-weight:bold;" fill="#111" text-anchor="start" textLength="45.0" lengthAdjust="spacingAndGlyphs" stroke="#111" stroke-width="0.45">ЖИДКОСТИ</text>
<polyline points="358.8,196.5 399.2,148.9 506.6,148.9" fill="none" stroke="#111" stroke-width="1.43" stroke-linejoin="round" />
<text x="280.0" y="194.0" style="font-family:&quot;Liberation Sans&quot;,sans-serif;font-size:22px;font-style:italic;" fill="#111" text-anchor="start" textLength="11.0" lengthAdjust="spacingAndGlyphs" stroke="#111" stroke-width="0.12">Г</text>
<polyline points="272.3,196.6 301.5,196.6 329.4,208.0" fill="none" stroke="#111" stroke-width="1.43" stroke-linejoin="round" />
<text x="384.5" y="198.0" style="font-family:&quot;Liberation Sans&quot;,sans-serif;font-size:20px;font-style:italic;" fill="#111" text-anchor="start" textLength="11.5" lengthAdjust="spacingAndGlyphs" stroke="#111" stroke-width="0.12">Б</text>
<polyline points="404.3,200.4 376.4,200.4 369.5,238.5" fill="none" stroke="#111" stroke-width="1.43" stroke-linejoin="round" />
<text x="438.5" y="193.5" style="font-family:&quot;Liberation Sans&quot;,sans-serif;font-size:28px;font-style:italic;" fill="#111" text-anchor="start" textLength="14.0" lengthAdjust="spacingAndGlyphs" stroke="#111" stroke-width="0.12">С</text>
<line x1="431.7" y1="194.6" x2="469.8" y2="194.6" stroke="#111" stroke-width="2.08" />
<polygon points="470.5,194.6 461.5,196.3 461.5,192.9" fill="#111" stroke="#111" stroke-width="0.4"/>
<text x="425.4" y="210.5" style="font-family:&quot;Liberation Sans&quot;,sans-serif;font-size:14px;font-style:italic;" fill="#111" text-anchor="start" textLength="42.0" lengthAdjust="spacingAndGlyphs" stroke="#111" stroke-width="0.45">Лист9</text>
<text x="472.3" y="178.8" style="font-family:&quot;Liberation Sans&quot;,sans-serif;font-size:11px;font-style:italic;font-weight:bold;" fill="#111" text-anchor="start" textLength="16.5" lengthAdjust="spacingAndGlyphs" stroke="#111" stroke-width="0.45">ж1)</text>
<polyline points="485.0,161.6 497.7,161.6 497.7,180.6 466.5,180.6" fill="none" stroke="#111" stroke-width="1.30" stroke-linejoin="round" />
<line x1="497.7" y1="180.6" x2="545.0" y2="266.0" stroke="#111" stroke-width="1.30" />
<text x="533.5" y="156.5" style="font-family:&quot;Liberation Sans&quot;,sans-serif;font-size:21px;font-style:italic;" fill="#111" text-anchor="start" textLength="14.0" lengthAdjust="spacingAndGlyphs" stroke="#111" stroke-width="0.12">Ж</text>
<polyline points="554.8,161.8 524.4,161.8" fill="none" stroke="#111" stroke-width="1.43" stroke-linejoin="round" />
<line x1="554.8" y1="161.8" x2="571.0" y2="234.7" stroke="#111" stroke-width="1.43" />
<text x="625.6" y="157.3" style="font-family:&quot;Liberation Sans&quot;,sans-serif;font-size:18px;font-style:italic;" fill="#111" text-anchor="start" textLength="10.5" lengthAdjust="spacingAndGlyphs" stroke="#111" stroke-width="0.12">А</text>
<polyline points="649.5,161.0 619.0,161.0 590.4,228.3" fill="none" stroke="#111" stroke-width="1.43" stroke-linejoin="round" />
<text x="685.0" y="156.5" style="font-family:&quot;Liberation Sans&quot;,sans-serif;font-size:27px;font-style:italic;" fill="#111" text-anchor="start" textLength="17.0" lengthAdjust="spacingAndGlyphs" stroke="#111" stroke-width="0.12">Д</text>
<text x="704.0" y="160.0" style="font-family:&quot;Liberation Sans&quot;,sans-serif;font-size:12px;font-style:italic;" fill="#111" text-anchor="start" textLength="4.5" lengthAdjust="spacingAndGlyphs" stroke="#111" stroke-width="0.45">1</text>
<text x="709.0" y="159.8" style="font-family:&quot;Liberation Sans&quot;,sans-serif;font-size:12px;font-style:italic;" fill="#111" text-anchor="start" textLength="39.5" lengthAdjust="spacingAndGlyphs" stroke="#111" stroke-width="0.45">лист9</text>
<line x1="682.5" y1="158.0" x2="701.5" y2="158.0" stroke="#111" stroke-width="1.69" />
<line x1="671.0" y1="161.8" x2="706.6" y2="161.8" stroke="#111" stroke-width="1.69" />
<polygon points="670.5,161.8 678.5,160.2 678.5,163.4" fill="#111" stroke="#111" stroke-width="0.4"/>
<text x="755.5" y="148.9" style="font-family:&quot;Liberation Sans&quot;,sans-serif;font-size:20px;font-style:italic;" fill="#111" text-anchor="start" textLength="12.0" lengthAdjust="spacingAndGlyphs" stroke="#111" stroke-width="0.12">И</text>
<polyline points="779.0,153.0 747.2,153.0 673.6,211.8" fill="none" stroke="#111" stroke-width="1.43" stroke-linejoin="round" />
<text x="757.0" y="185.2" style="font-family:&quot;Liberation Sans&quot;,sans-serif;font-size:21px;font-style:italic;" fill="#111" text-anchor="start" textLength="10.5" lengthAdjust="spacingAndGlyphs" stroke="#111" stroke-width="0.12">З</text>
<text x="768.3" y="187.6" style="font-family:&quot;Liberation Sans&quot;,sans-serif;font-size:9.5px;font-style:italic;font-weight:bold;" fill="#111" text-anchor="start" textLength="10.0" lengthAdjust="spacingAndGlyphs" stroke="#111" stroke-width="0.45">1,2</text>
<polyline points="780.2,187.7 748.5,187.7 676.0,211.5" fill="none" stroke="#111" stroke-width="1.43" stroke-linejoin="round" />
<line x1="675.6" y1="234.5" x2="711.7" y2="234.5" stroke="#111" stroke-width="1.69" />
<polygon points="675.6,234.5 683.6,232.9 683.6,236.1" fill="#111" stroke="#111" stroke-width="0.4"/>
<text x="685.5" y="258.3" style="font-family:&quot;Liberation Sans&quot;,sans-serif;font-size:27px;font-style:italic;" fill="#111" text-anchor="start" textLength="17.0" lengthAdjust="spacingAndGlyphs" stroke="#111" stroke-width="0.12">Д</text>
<text x="705.3" y="262.0" style="font-family:&quot;Liberation Sans&quot;,sans-serif;font-size:13px;font-style:italic;" fill="#111" text-anchor="start" textLength="4.5" lengthAdjust="spacingAndGlyphs" stroke="#111" stroke-width="0.45">1</text>
<line x1="683.4" y1="258.6" x2="703.6" y2="258.6" stroke="#111" stroke-width="1.17" />
<text x="734.5" y="263.5" style="font-family:&quot;Liberation Sans&quot;,sans-serif;font-size:12px;font-style:italic;" fill="#111" text-anchor="start" textLength="16.5" lengthAdjust="spacingAndGlyphs" transform="rotate(-5 734.5 263.5)" stroke="#111" stroke-width="0.45">200</text>
<text x="753.5" y="261.8" style="font-family:&quot;Liberation Sans&quot;,sans-serif;font-size:12px;font-style:italic;" fill="#111" text-anchor="start" textLength="25.5" lengthAdjust="spacingAndGlyphs" transform="rotate(-5 753.5 261.8)" stroke="#111" stroke-width="0.45">(320)</text>
<text x="782.0" y="256.0" style="font-family:&quot;Liberation Sans&quot;,sans-serif;font-size:10px;font-style:italic;font-weight:bold;" fill="#111" text-anchor="start" textLength="16.0" lengthAdjust="spacingAndGlyphs" transform="rotate(-5 782.0 256.0)" stroke="#111" stroke-width="0.45">ж2)</text>
<line x1="694.4" y1="262.0" x2="694.4" y2="292.6" stroke="#111" stroke-width="1.30" />
<line x1="724.9" y1="262.0" x2="724.9" y2="294.0" stroke="#111" stroke-width="1.30" />
<line x1="694.4" y1="268.5" x2="751.0" y2="268.5" stroke="#111" stroke-width="1.30" />
<polygon points="694.4,268.5 700.4,267.0 700.4,270.0" fill="#111" stroke="#111" stroke-width="0.4"/>
<polygon points="724.9,268.5 718.9,270.0 718.9,267.0" fill="#111" stroke="#111" stroke-width="0.4"/>
<text x="628.0" y="246.0" style="font-family:&quot;Liberation Sans&quot;,sans-serif;font-size:11px;font-style:italic;font-weight:bold;" fill="#111" text-anchor="start" textLength="15.5" lengthAdjust="spacingAndGlyphs" stroke="#111" stroke-width="0.45">ж1)</text>
<polyline points="638.0,229.2 650.8,229.2 650.8,248.4 626.6,248.4" fill="none" stroke="#111" stroke-width="1.30" stroke-linejoin="round" />
<line x1="650.8" y1="248.4" x2="669.5" y2="266.0" stroke="#111" stroke-width="1.30" />
<text x="417.8" y="241.0" style="font-family:&quot;Liberation Sans&quot;,sans-serif;font-size:11px;font-style:italic;font-weight:bold;" fill="#111" text-anchor="start" textLength="15.5" lengthAdjust="spacingAndGlyphs" stroke="#111" stroke-width="0.45">ж1)</text>
<line x1="412.7" y1="244.2" x2="443.0" y2="244.2" stroke="#111" stroke-width="1.30" />
<polyline points="403.5,222.5 412.0,225.4 412.0,244.2" fill="none" stroke="#111" stroke-width="1.30" stroke-linejoin="round" />
<line x1="415.7" y1="244.2" x2="376.0" y2="266.2" stroke="#111" stroke-width="1.30" />
<polygon points="375.0,266.8 380.4,262.1 381.8,264.7" fill="#111" stroke="#111" stroke-width="0.4"/>
<text x="163.0" y="270.0" style="font-family:&quot;Liberation Sans&quot;,sans-serif;font-size:19px;font-style:italic;" fill="#111" text-anchor="start" textLength="10.0" lengthAdjust="spacingAndGlyphs" stroke="#111" stroke-width="0.12">В</text>
<polyline points="159.5,273.0 181.8,273.0 199.0,330.9" fill="none" stroke="#111" stroke-width="1.43" stroke-linejoin="round" />
<text x="162.0" y="306.5" style="font-family:&quot;Liberation Sans&quot;,sans-serif;font-size:21px;font-style:italic;" fill="#111" text-anchor="start" textLength="13.5" lengthAdjust="spacingAndGlyphs" stroke="#111" stroke-width="0.12">Д</text>
<polyline points="159.0,309.0 181.8,309.0 199.0,335.2" fill="none" stroke="#111" stroke-width="1.43" stroke-linejoin="round" />
<text x="262.5" y="273.6" style="font-family:&quot;Liberation Sans&quot;,sans-serif;font-size:20px;font-style:italic;" fill="#111" text-anchor="start" textLength="11.0" lengthAdjust="spacingAndGlyphs" stroke="#111" stroke-width="0.12">Е</text>
<polyline points="259.6,278.7 278.7,278.7 280.7,259.6" fill="none" stroke="#111" stroke-width="1.30" stroke-linejoin="round" />
<text x="207.5" y="262.8" style="font-family:&quot;Liberation Sans&quot;,sans-serif;font-size:12px;font-style:italic;" fill="#111" text-anchor="start" textLength="16.5" lengthAdjust="spacingAndGlyphs" stroke="#111" stroke-width="0.45">250</text>
<text x="237.5" y="262.8" style="font-family:&quot;Liberation Sans&quot;,sans-serif;font-size:12px;font-style:italic;" fill="#111" text-anchor="start" textLength="16.5" lengthAdjust="spacingAndGlyphs" stroke="#111" stroke-width="0.45">200</text>
<line x1="199.0" y1="262.8" x2="199.0" y2="336.4" stroke="#111" stroke-width="1.30" />
<line x1="259.2" y1="264.0" x2="259.2" y2="293.3" stroke="#111" stroke-width="1.30" />
<line x1="199.0" y1="269.5" x2="259.2" y2="269.5" stroke="#111" stroke-width="1.30" />
<polygon points="199.0,269.5 205.0,268.0 205.0,271.0" fill="#111" stroke="#111" stroke-width="0.4"/>
<polygon points="230.6,269.5 224.6,271.0 224.6,268.0" fill="#111" stroke="#111" stroke-width="0.4"/>
<polygon points="231.0,269.5 237.0,268.0 237.0,271.0" fill="#111" stroke="#111" stroke-width="0.4"/>
<polygon points="259.2,269.5 253.2,271.0 253.2,268.0" fill="#111" stroke="#111" stroke-width="0.4"/>
<text x="83.0" y="379.0" style="font-family:&quot;Liberation Sans&quot;,sans-serif;font-size:27px;font-style:italic;" fill="#111" text-anchor="start" textLength="18.0" lengthAdjust="spacingAndGlyphs" stroke="#111" stroke-width="0.12">П</text>
<line x1="79.0" y1="382.0" x2="116.3" y2="382.0" stroke="#111" stroke-width="2.08" />
<polygon points="117.0,382.0 108.0,383.7 108.0,380.3" fill="#111" stroke="#111" stroke-width="0.4"/>
<text x="75.7" y="400.5" style="font-family:&quot;Liberation Sans&quot;,sans-serif;font-size:13px;font-style:italic;" fill="#111" text-anchor="start" textLength="39.0" lengthAdjust="spacingAndGlyphs" stroke="#111" stroke-width="0.45">Лист 7</text>
<text x="122.5" y="377.0" style="font-family:&quot;Liberation Sans&quot;,sans-serif;font-size:26px;font-style:italic;" fill="#111" text-anchor="start" textLength="12.0" lengthAdjust="spacingAndGlyphs" stroke="#111" stroke-width="0.12">Т</text>
<line x1="136.9" y1="350.4" x2="136.9" y2="382.0" stroke="#111" stroke-width="1.30" />
<polygon points="136.9,382.0 135.4,373.0 138.4,373.0" fill="#111" stroke="#111" stroke-width="0.4"/>
<line x1="130.6" y1="382.0" x2="161.5" y2="382.0" stroke="#111" stroke-width="1.69" />
<text x="794.0" y="377.0" style="font-family:&quot;Liberation Sans&quot;,sans-serif;font-size:27px;font-style:italic;" fill="#111" text-anchor="start" textLength="13.5" lengthAdjust="spacingAndGlyphs" stroke="#111" stroke-width="0.12">Т</text>
<line x1="788.4" y1="349.7" x2="788.4" y2="381.0" stroke="#111" stroke-width="1.30" />
<polygon points="788.4,381.5 786.9,372.5 789.9,372.5" fill="#111" stroke="#111" stroke-width="0.4"/>
<line x1="762.5" y1="381.3" x2="795.4" y2="381.3" stroke="#111" stroke-width="1.69" />
<text x="861.5" y="377.0" style="font-family:&quot;Liberation Sans&quot;,sans-serif;font-size:27px;font-style:italic;" fill="#111" text-anchor="start" textLength="16.0" lengthAdjust="spacingAndGlyphs" stroke="#111" stroke-width="0.12">Р</text>
<line x1="847.4" y1="381.3" x2="884.5" y2="381.3" stroke="#111" stroke-width="1.69" />
<polygon points="846.5,381.3 855.5,379.7 855.5,382.9" fill="#111" stroke="#111" stroke-width="0.4"/>
<line x1="179.3" y1="337.0" x2="199.0" y2="337.0" stroke="#111" stroke-width="1.30" />
<line x1="185.6" y1="337.0" x2="185.6" y2="381.5" stroke="#111" stroke-width="1.30" />
<polygon points="185.6,337.0 187.1,344.0 184.1,344.0" fill="#111" stroke="#111" stroke-width="0.4"/>
<polygon points="185.6,381.5 184.1,374.5 187.1,374.5" fill="#111" stroke="#111" stroke-width="0.4"/>
<text x="181.5" y="366.0" style="font-family:&quot;Liberation Sans&quot;,sans-serif;font-size:14px;font-style:italic;" fill="#111" text-anchor="start" transform="rotate(-90 181.5 366.0)" stroke="#111" stroke-width="0.45">h</text>
<text x="183.5" y="358.5" style="font-family:&quot;Liberation Sans&quot;,sans-serif;font-size:9px;font-style:italic;" fill="#111" text-anchor="start" transform="rotate(-90 183.5 358.5)" stroke="#111" stroke-width="0.45">1</text>
<line x1="142.0" y1="381.7" x2="161.6" y2="381.9" stroke="#111" stroke-width="1.30" />
<line x1="179.3" y1="381.7" x2="302.0" y2="381.9" stroke="#111" stroke-width="1.30" />
<line x1="318.0" y1="381.7" x2="495.0" y2="381.9" stroke="#111" stroke-width="1.30" />
<line x1="511.7" y1="381.7" x2="634.3" y2="381.9" stroke="#111" stroke-width="1.30" />
<line x1="653.3" y1="381.7" x2="742.0" y2="381.9" stroke="#111" stroke-width="1.30" />
<line x1="204.7" y1="433.6" x2="241.5" y2="412.0" stroke="#111" stroke-width="1.30" />
<polygon points="220.5,424.3 216.1,428.6 214.6,426.0" fill="#111" stroke="#111" stroke-width="0.4"/>
<polygon points="225.5,421.4 229.9,417.1 231.4,419.7" fill="#111" stroke="#111" stroke-width="0.4"/>
<text x="223.0" y="410.0" style="font-family:&quot;Liberation Sans&quot;,sans-serif;font-size:13px;font-style:italic;" fill="#111" text-anchor="start" transform="rotate(-28 223.0 410.0)" stroke="#111" stroke-width="0.45">8</text>
<rect x="253.8" y="292.0" width="12.4" height="18.4" rx="3.5" fill="#fff" stroke="#111" stroke-width="1.69"/>
<line x1="259.2" y1="294.0" x2="259.2" y2="308.0" stroke="#111" stroke-width="1.04" />
<line x1="243.8" y1="299.6" x2="243.8" y2="325.0" stroke="#111" stroke-width="1.30" />
<line x1="243.8" y1="349.6" x2="244.6" y2="463.3" stroke="#111" stroke-width="1.30" />
<line x1="256.2" y1="352.0" x2="256.5" y2="451.7" stroke="#111" stroke-width="1.30" />
<line x1="256.5" y1="451.7" x2="303.4" y2="451.7" stroke="#111" stroke-width="1.30" />
<line x1="267.0" y1="345.0" x2="268.7" y2="506.8" stroke="#111" stroke-width="1.30" />
<line x1="278.5" y1="341.0" x2="279.8" y2="437.0" stroke="#111" stroke-width="1.30" />
<polygon points="200.0,325.3 265.4,325.3 273.0,334.0 274.6,341.2 256.2,352.0 250.0,348.4 200.0,348.4" fill="#fff" stroke="#111" stroke-width="1.56" stroke-linejoin="round" />
<polyline points="260.8,332.4 265.4,325.3" fill="none" stroke="#111" stroke-width="1.30" stroke-linejoin="round" />
<polyline points="250.0,348.4 253.8,342.2 263.0,341.0 274.6,341.2" fill="none" stroke="#111" stroke-width="1.30" stroke-linejoin="round" />
<polyline points="253.8,342.2 260.8,332.4" fill="none" stroke="#111" stroke-width="1.30" stroke-linejoin="round" />
<line x1="213.0" y1="327.0" x2="264.0" y2="327.0" stroke="#111" stroke-width="1.17" />
<line x1="204.6" y1="325.3" x2="204.6" y2="348.4" stroke="#111" stroke-width="1.30" />
<line x1="207.0" y1="325.3" x2="207.0" y2="348.4" stroke="#111" stroke-width="1.30" />
<line x1="211.5" y1="325.3" x2="211.5" y2="348.4" stroke="#111" stroke-width="1.30" />
<line x1="213.2" y1="325.3" x2="213.2" y2="348.4" stroke="#111" stroke-width="1.30" />
<path d="M213 334.2 L308 334.2 Q315.6 334.2 315.6 342 L315.8 401 Q316 407.2 323 407.2" fill="none" stroke="#111" stroke-width="1.43" stroke-linejoin="round" stroke-linecap="round" />
<path d="M213 337.4 L306.5 337.4 Q312.4 337.4 312.4 343 L312.6 402 Q313 409 321 409" fill="none" stroke="#111" stroke-width="1.17" stroke-linejoin="round" stroke-linecap="round" />
<path d="M213 340.4 L304.5 340.4 Q309.2 340.4 309.2 345 L309.4 403 Q309.6 411 321 411.2" fill="none" stroke="#111" stroke-width="1.43" stroke-linejoin="round" stroke-linecap="round" />
<polygon points="279.8,437.0 287.0,437.0 290.5,460.0 279.8,460.0" fill="none" stroke="#111" stroke-width="1.43" stroke-linejoin="round" />
<polygon points="256.5,467.6 265.6,467.6 265.6,479.3 257.5,479.3" fill="none" stroke="#111" stroke-width="1.43" stroke-linejoin="round" />
<line x1="295.3" y1="421.7" x2="295.3" y2="481.4" stroke="#111" stroke-width="1.30" />
<polygon points="295.3,463.3 293.8,457.3 296.8,457.3" fill="#111" stroke="#111" stroke-width="0.4"/>
<polygon points="295.3,467.6 296.8,473.6 293.8,473.6" fill="#111" stroke="#111" stroke-width="0.4"/>
<text x="293.0" y="437.0" style="font-family:&quot;Liberation Sans&quot;,sans-serif;font-size:12px;font-style:italic;" fill="#111" text-anchor="start" textLength="16.0" lengthAdjust="spacingAndGlyphs" transform="rotate(-90 293.0 437.0)" stroke="#111" stroke-width="0.45">200</text>
<polygon points="240.3,299.0 244.6,299.5 214.8,363.0 214.6,399.0 245.4,463.3 239.3,463.3 209.4,399.8 209.8,362.0" fill="url(#h3)" stroke="#111" stroke-width="1.43" stroke-linejoin="round" />
<polygon points="725.6,294.4 749.0,361.7 748.5,400.0 721.2,462.5 717.2,462.5 744.2,400.5 743.8,362.5 719.8,297.5" fill="url(#h4)" stroke="#111" stroke-width="1.43" stroke-linejoin="round" />
<line x1="323.0" y1="409.0" x2="616.0" y2="409.0" stroke="#111" stroke-width="4.3" stroke-linecap="round"/>
<line x1="323.0" y1="409.0" x2="615.6" y2="409.0" stroke="#fff" stroke-width="1.6" stroke-linecap="round"/>
<line x1="320.5" y1="414.8" x2="614.2" y2="414.8" stroke="#111" stroke-width="4.3" stroke-linecap="round"/>
<line x1="320.5" y1="414.8" x2="613.9" y2="414.8" stroke="#fff" stroke-width="1.6" stroke-linecap="round"/>
<line x1="321.5" y1="420.6" x2="612.5" y2="420.6" stroke="#111" stroke-width="4.3" stroke-linecap="round"/>
<line x1="321.5" y1="420.6" x2="612.1" y2="420.6" stroke="#fff" stroke-width="1.6" stroke-linecap="round"/>
<line x1="323.0" y1="426.4" x2="610.8" y2="426.4" stroke="#111" stroke-width="4.3" stroke-linecap="round"/>
<line x1="323.0" y1="426.4" x2="610.4" y2="426.4" stroke="#fff" stroke-width="1.6" stroke-linecap="round"/>
<line x1="324.5" y1="432.2" x2="609.0" y2="432.2" stroke="#111" stroke-width="4.3" stroke-linecap="round"/>
<line x1="324.5" y1="432.2" x2="608.6" y2="432.2" stroke="#fff" stroke-width="1.6" stroke-linecap="round"/>
<line x1="326.5" y1="438.0" x2="607.2" y2="438.0" stroke="#111" stroke-width="4.3" stroke-linecap="round"/>
<line x1="326.5" y1="438.0" x2="606.9" y2="438.0" stroke="#fff" stroke-width="1.6" stroke-linecap="round"/>
<line x1="328.5" y1="443.8" x2="605.5" y2="443.8" stroke="#111" stroke-width="4.3" stroke-linecap="round"/>
<line x1="328.5" y1="443.8" x2="605.1" y2="443.8" stroke="#fff" stroke-width="1.6" stroke-linecap="round"/>
<line x1="330.5" y1="449.6" x2="603.8" y2="449.6" stroke="#111" stroke-width="4.3" stroke-linecap="round"/>
<line x1="330.5" y1="449.6" x2="603.4" y2="449.6" stroke="#fff" stroke-width="1.6" stroke-linecap="round"/>
<path d="M303.3 463.3 L303.3 419 Q303.5 413.2 309 413.2 L312 413.2 Q315.5 413.4 317 417 L331.5 449.4 L331.5 463.3" fill="none" stroke="#111" stroke-width="1.43" stroke-linejoin="round" stroke-linecap="round" />
<path d="M306.6 463.3 L306.6 420 Q306.8 416.5 309.8 416.5 L311.5 416.5 Q313.4 416.6 314.4 419 L328.3 450.2 L328.3 463.3" fill="none" stroke="#111" stroke-width="1.30" stroke-linejoin="round" stroke-linecap="round" />
<path d="M605.4 463 L618.6 410 Q620 404.6 624.5 404.6 L629 404.6 Q633.6 405 633.8 409.5 L633.8 463" fill="none" stroke="#111" stroke-width="1.43" stroke-linejoin="round" stroke-linecap="round" />
<path d="M608.8 463 L621.4 411.8 Q622.4 407.6 625.5 407.6 L628 407.6 Q630.6 407.8 630.8 410.5 L630.8 463" fill="none" stroke="#111" stroke-width="1.30" stroke-linejoin="round" stroke-linecap="round" />
<polygon points="634.3,300.3 637.2,301.6 580.2,456.5 577.4,455.5" fill="#fff"/>
<line x1="634.3" y1="300.3" x2="577.2" y2="455.5" stroke="#111" stroke-width="1.43" />
<line x1="637.2" y1="301.6" x2="580.2" y2="456.5" stroke="#111" stroke-width="1.43" />
<polyline points="578.6,455.0 575.6,462.5" fill="none" stroke="#111" stroke-width="2.86" stroke-linejoin="round" />
<rect x="634.6" y="306.0" width="2.6" height="8.0" rx="0" fill="#333" stroke="#111" stroke-width="1.30"/>
<rect x="329" y="404" width="4" height="27" fill="#fff"/>
<line x1="328.8" y1="404.0" x2="328.9" y2="430.0" stroke="#111" stroke-width="1.43" />
<line x1="333.0" y1="404.0" x2="333.1" y2="426.0" stroke="#111" stroke-width="1.43" />
<rect x="348.9" y="404" width="11.2" height="24" fill="#fff"/>
<line x1="348.9" y1="404.0" x2="349.0" y2="428.0" stroke="#111" stroke-width="1.56" />
<line x1="351.5" y1="404.0" x2="351.6" y2="428.0" stroke="#111" stroke-width="1.17" />
<line x1="354.9" y1="404.0" x2="355.0" y2="428.0" stroke="#111" stroke-width="1.17" />
<line x1="360.1" y1="404.0" x2="360.2" y2="428.0" stroke="#111" stroke-width="1.56" />
<rect x="345.0" y="428.0" width="21.0" height="3.0" rx="0" fill="#fff" stroke="#444" stroke-width="1.17"/>
<rect x="343.4" y="431.2" width="23.6" height="3.0" rx="0" fill="#fff" stroke="#444" stroke-width="1.17"/>
<rect x="343.4" y="434.4" width="24.6" height="3.0" rx="0" fill="#fff" stroke="#444" stroke-width="1.17"/>
<rect x="342.4" y="437.6" width="24.6" height="3.0" rx="0" fill="#fff" stroke="#444" stroke-width="1.17"/>
<rect x="343.4" y="440.6" width="24.6" height="3.0" rx="0" fill="#fff" stroke="#444" stroke-width="1.17"/>
<rect x="351.6" y="448.3" width="8.2" height="4.4" rx="0" fill="#fff" stroke="#111" stroke-width="1.30"/>
<line x1="355.5" y1="444.4" x2="355.5" y2="448.0" stroke="#111" stroke-width="1.30" />
<path d="M328.9 430 Q329.5 439 342 439.2" fill="none" stroke="#111" stroke-width="1.43" stroke-linejoin="round" stroke-linecap="round" />
<path d="M333.1 426 Q333.5 435.4 343 435.6" fill="none" stroke="#111" stroke-width="1.43" stroke-linejoin="round" stroke-linecap="round" />
<rect x="389.4" y="406.6" width="3.6" height="44.9" rx="0" fill="#fff" stroke="#111" stroke-width="1.43"/>
<rect x="386.1" y="404.6" width="10.2" height="2.0" rx="0" fill="#fff" stroke="#111" stroke-width="1.43"/>
<line x1="391.2" y1="408.6" x2="391.2" y2="449.5" stroke="#111" stroke-width="1.04" stroke-dasharray="3 3"/>
<rect x="480.7" y="406.6" width="4.3" height="44.9" rx="0" fill="#fff" stroke="#111" stroke-width="1.43"/>
<rect x="477.4" y="404.6" width="10.9" height="2.0" rx="0" fill="#fff" stroke="#111" stroke-width="1.43"/>
<line x1="482.9" y1="408.6" x2="482.9" y2="449.5" stroke="#111" stroke-width="1.04" stroke-dasharray="3 3"/>
<line x1="477.4" y1="452.0" x2="477.4" y2="463.0" stroke="#111" stroke-width="1.30" />
<line x1="487.6" y1="452.0" x2="487.6" y2="463.0" stroke="#111" stroke-width="1.30" />
<line x1="386.0" y1="452.0" x2="386.0" y2="463.0" stroke="#111" stroke-width="1.30" />
<line x1="396.0" y1="452.0" x2="396.0" y2="463.0" stroke="#111" stroke-width="1.30" />
<line x1="412.7" y1="299.0" x2="412.7" y2="305.3" stroke="#111" stroke-width="1.30" />
<line x1="415.1" y1="299.0" x2="415.1" y2="305.3" stroke="#111" stroke-width="1.30" />
<rect x="410.0" y="305.3" width="7.7" height="101.2" rx="0" fill="#fff" stroke="#111" stroke-width="1.95"/>
<line x1="413.9" y1="306.9" x2="413.9" y2="404.9" stroke="#222" stroke-width="4.30" stroke-dasharray="1.9 1.4"/>
<line x1="413.9" y1="306.9" x2="413.9" y2="404.9" stroke="#fff" stroke-width="0.91" />
<rect x="410.9" y="451.8" width="6.0" height="3.0" rx="0" fill="#222" stroke="#111" stroke-width="1.30"/>
<line x1="412.7" y1="455.0" x2="412.7" y2="463.0" stroke="#111" stroke-width="1.30" />
<line x1="415.1" y1="455.0" x2="415.1" y2="463.0" stroke="#111" stroke-width="1.30" />
<line x1="457.6" y1="299.0" x2="457.6" y2="305.3" stroke="#111" stroke-width="1.30" />
<line x1="460.0" y1="299.0" x2="460.0" y2="305.3" stroke="#111" stroke-width="1.30" />
<rect x="454.6" y="305.3" width="8.4" height="101.2" rx="0" fill="#fff" stroke="#111" stroke-width="1.95"/>
<line x1="458.8" y1="306.9" x2="458.8" y2="404.9" stroke="#222" stroke-width="5.00" stroke-dasharray="1.9 1.4"/>
<line x1="458.8" y1="306.9" x2="458.8" y2="404.9" stroke="#fff" stroke-width="0.91" />
<rect x="455.8" y="451.8" width="6.0" height="3.0" rx="0" fill="#222" stroke="#111" stroke-width="1.30"/>
<line x1="457.6" y1="455.0" x2="457.6" y2="463.0" stroke="#111" stroke-width="1.30" />
<line x1="460.0" y1="455.0" x2="460.0" y2="463.0" stroke="#111" stroke-width="1.30" />
<line x1="503.8" y1="299.0" x2="503.8" y2="305.3" stroke="#111" stroke-width="1.30" />
<line x1="506.2" y1="299.0" x2="506.2" y2="305.3" stroke="#111" stroke-width="1.30" />
<rect x="501.0" y="305.3" width="8.0" height="101.2" rx="0" fill="#fff" stroke="#111" stroke-width="1.95"/>
<line x1="505.0" y1="306.9" x2="505.0" y2="404.9" stroke="#222" stroke-width="4.60" stroke-dasharray="1.9 1.4"/>
<line x1="505.0" y1="306.9" x2="505.0" y2="404.9" stroke="#fff" stroke-width="0.91" />
<rect x="502.0" y="451.8" width="6.0" height="3.0" rx="0" fill="#222" stroke="#111" stroke-width="1.30"/>
<line x1="503.8" y1="455.0" x2="503.8" y2="463.0" stroke="#111" stroke-width="1.30" />
<line x1="506.2" y1="455.0" x2="506.2" y2="463.0" stroke="#111" stroke-width="1.30" />
<line x1="400.3" y1="299.0" x2="400.6" y2="463.3" stroke="#111" stroke-width="1.30" />
<polygon points="400.3,299.4 401.8,306.4 398.8,306.4" fill="#111" stroke="#111" stroke-width="0.4"/>
<polygon points="400.6,463.3 399.1,456.3 402.1,456.3" fill="#111" stroke="#111" stroke-width="0.4"/>
<text x="397.0" y="360.0" style="font-family:&quot;Liberation Sans&quot;,sans-serif;font-size:15px;font-style:italic;" fill="#111" text-anchor="start" transform="rotate(-90 397.0 360.0)" stroke="#111" stroke-width="0.45">D</text>
<line x1="374.0" y1="433.0" x2="374.0" y2="482.6" stroke="#111" stroke-width="1.30" />
<polygon points="374.0,463.3 372.5,457.3 375.5,457.3" fill="#111" stroke="#111" stroke-width="0.4"/>
<polygon points="374.0,467.6 375.5,473.6 372.5,473.6" fill="#111" stroke="#111" stroke-width="0.4"/>
<text x="372.5" y="486.0" style="font-family:&quot;Liberation Sans&quot;,sans-serif;font-size:11px;font-style:italic;" fill="#111" text-anchor="start" textLength="11.5" lengthAdjust="spacingAndGlyphs" transform="rotate(-90 372.5 486.0)" stroke="#111" stroke-width="0.45">90</text>
<line x1="402.0" y1="467.6" x2="402.0" y2="487.7" stroke="#111" stroke-width="1.30" />
<polygon points="402.0,467.6 403.5,473.6 400.5,473.6" fill="#111" stroke="#111" stroke-width="0.4"/>
<text x="401.0" y="482.0" style="font-family:&quot;Liberation Sans&quot;,sans-serif;font-size:13px;font-style:italic;" fill="#111" text-anchor="start" transform="rotate(-90 401.0 482.0)" stroke="#111" stroke-width="0.45">S</text>
<line x1="210.3" y1="400.0" x2="211.0" y2="565.5" stroke="#111" stroke-width="1.30" />
<line x1="234.4" y1="467.6" x2="234.6" y2="540.0" stroke="#111" stroke-width="1.30" />
<line x1="413.4" y1="467.6" x2="413.5" y2="517.0" stroke="#111" stroke-width="1.30" />
<line x1="459.0" y1="467.6" x2="459.2" y2="498.0" stroke="#111" stroke-width="1.30" />
<line x1="505.0" y1="467.6" x2="505.0" y2="517.4" stroke="#111" stroke-width="1.30" />
<line x1="726.2" y1="497.0" x2="726.4" y2="540.0" stroke="#111" stroke-width="1.30" />
<text x="240.8" y="494.0" style="font-family:&quot;Liberation Sans&quot;,sans-serif;font-size:12px;font-style:italic;" fill="#111" text-anchor="start" textLength="16.5" lengthAdjust="spacingAndGlyphs" stroke="#111" stroke-width="0.45">250</text>
<line x1="234.5" y1="499.6" x2="268.7" y2="499.6" stroke="#111" stroke-width="1.30" />
<polygon points="234.5,499.6 240.5,498.1 240.5,501.1" fill="#111" stroke="#111" stroke-width="0.4"/>
<polygon points="268.7,499.6 262.7,501.1 262.7,498.1" fill="#111" stroke="#111" stroke-width="0.4"/>
<line x1="234.5" y1="511.3" x2="413.4" y2="511.3" stroke="#111" stroke-width="1.30" />
<polygon points="234.5,511.3 241.5,509.8 241.5,512.8" fill="#111" stroke="#111" stroke-width="0.4"/>
<polygon points="413.4,511.3 406.4,512.8 406.4,509.8" fill="#111" stroke="#111" stroke-width="0.4"/>
<text x="313.0" y="507.5" style="font-family:&quot;Liberation Sans&quot;,sans-serif;font-size:21px;font-style:italic;" fill="#111" text-anchor="start" stroke="#111" stroke-width="0.0">ℓ</text>
<text x="320.0" y="509.5" style="font-family:&quot;Liberation Sans&quot;,sans-serif;font-size:11px;font-style:italic;" fill="#111" text-anchor="start" stroke="#111" stroke-width="0.45">8</text>
<line x1="413.5" y1="491.4" x2="459.1" y2="491.4" stroke="#111" stroke-width="1.30" />
<polygon points="413.5,491.4 420.5,489.9 420.5,492.9" fill="#111" stroke="#111" stroke-width="0.4"/>
<polygon points="459.1,491.4 452.1,492.9 452.1,489.9" fill="#111" stroke="#111" stroke-width="0.4"/>
<text x="428.0" y="488.0" style="font-family:&quot;Liberation Sans&quot;,sans-serif;font-size:19px;font-style:italic;" fill="#111" text-anchor="start" stroke="#111" stroke-width="0.0">ℓ</text>
<text x="434.5" y="490.0" style="font-family:&quot;Liberation Sans&quot;,sans-serif;font-size:10px;font-style:italic;" fill="#111" text-anchor="start" stroke="#111" stroke-width="0.45">1</text>
<line x1="413.5" y1="511.0" x2="505.0" y2="511.0" stroke="#111" stroke-width="1.30" />
<polygon points="413.5,511.0 420.5,509.5 420.5,512.5" fill="#111" stroke="#111" stroke-width="0.4"/>
<polygon points="505.0,511.0 498.0,512.5 498.0,509.5" fill="#111" stroke="#111" stroke-width="0.4"/>
<text x="428.2" y="507.5" style="font-family:&quot;Liberation Sans&quot;,sans-serif;font-size:13px;font-style:italic;" fill="#111" text-anchor="start" textLength="6.5" lengthAdjust="spacingAndGlyphs" stroke="#111" stroke-width="0.45">n</text>
<text x="436.0" y="507.0" style="font-family:&quot;Liberation Sans&quot;,sans-serif;font-size:11px;" fill="#111" text-anchor="start" stroke="#111" stroke-width="0.45">×</text>
<text x="442.5" y="507.0" style="font-family:&quot;Liberation Sans&quot;,sans-serif;font-size:18px;font-style:italic;" fill="#111" text-anchor="start" stroke="#111" stroke-width="0.0">ℓ</text>
<text x="448.5" y="508.5" style="font-family:&quot;Liberation Sans&quot;,sans-serif;font-size:10px;font-style:italic;" fill="#111" text-anchor="start" stroke="#111" stroke-width="0.45">1</text>
<text x="456.0" y="506.5" style="font-family:&quot;Liberation Sans&quot;,sans-serif;font-size:10px;" fill="#111" text-anchor="start" stroke="#111" stroke-width="0.45">=</text>
<text x="464.0" y="507.5" style="font-family:&quot;Liberation Sans&quot;,sans-serif;font-size:15px;font-style:italic;" fill="#111" text-anchor="start" textLength="8.0" lengthAdjust="spacingAndGlyphs" stroke="#111" stroke-width="0.45">L</text>
<text x="473.0" y="509.0" style="font-family:&quot;Liberation Sans&quot;,sans-serif;font-size:10.5px;font-style:italic;" fill="#111" text-anchor="start" stroke="#111" stroke-width="0.45">2</text>
<line x1="234.6" y1="533.0" x2="726.3" y2="533.0" stroke="#111" stroke-width="1.30" />
<polygon points="234.6,533.0 241.6,531.5 241.6,534.5" fill="#111" stroke="#111" stroke-width="0.4"/>
<polygon points="726.3,533.0 719.3,534.5 719.3,531.5" fill="#111" stroke="#111" stroke-width="0.4"/>
<text x="446.5" y="527.0" style="font-family:&quot;Liberation Sans&quot;,sans-serif;font-size:15px;font-style:italic;" fill="#111" text-anchor="start" textLength="7.0" lengthAdjust="spacingAndGlyphs" stroke="#111" stroke-width="0.45">L</text>
<text x="453.5" y="529.5" style="font-family:&quot;Liberation Sans&quot;,sans-serif;font-size:9px;font-style:italic;font-weight:bold;" fill="#111" text-anchor="start" stroke="#111" stroke-width="0.45">1</text>
<line x1="210.8" y1="561.8" x2="749.0" y2="561.8" stroke="#111" stroke-width="1.30" />
<polygon points="210.8,561.8 217.8,560.3 217.8,563.3" fill="#111" stroke="#111" stroke-width="0.4"/>
<polygon points="749.0,561.8 742.0,563.3 742.0,560.3" fill="#111" stroke="#111" stroke-width="0.4"/>
<text x="425.7" y="558.5" style="font-family:&quot;Liberation Sans&quot;,sans-serif;font-size:15px;font-style:italic;" fill="#111" text-anchor="start" textLength="6.0" lengthAdjust="spacingAndGlyphs" stroke="#111" stroke-width="0.45">L</text>
<text x="222.8" y="600.0" style="font-family:&quot;Liberation Sans&quot;,sans-serif;font-size:11px;font-style:italic;font-weight:bold;" fill="#111" text-anchor="start" textLength="14.5" lengthAdjust="spacingAndGlyphs" stroke="#111" stroke-width="0.45">ж1)</text>
<text x="237.5" y="600.0" style="font-family:&quot;Liberation Sans&quot;,sans-serif;font-size:9px;font-style:italic;font-weight:bold;" fill="#111" text-anchor="start" textLength="19.5" lengthAdjust="spacingAndGlyphs" stroke="#111" stroke-width="0.45">ДЛЯ</text>
<text x="261.5" y="600.0" style="font-family:&quot;Liberation Sans&quot;,sans-serif;font-size:9px;font-style:italic;font-weight:bold;" fill="#111" text-anchor="start" textLength="44.0" lengthAdjust="spacingAndGlyphs" stroke="#111" stroke-width="0.45">ЕМКОСТЕЙ</text>
<text x="222.8" y="614.6" style="font-family:&quot;Liberation Sans&quot;,sans-serif;font-size:11px;font-style:italic;font-weight:bold;" fill="#111" text-anchor="start" textLength="14.5" lengthAdjust="spacingAndGlyphs" stroke="#111" stroke-width="0.45">ж2)</text>
<text x="237.5" y="614.6" style="font-family:&quot;Liberation Sans&quot;,sans-serif;font-size:9px;font-style:italic;font-weight:bold;" fill="#111" text-anchor="start" textLength="19.5" lengthAdjust="spacingAndGlyphs" stroke="#111" stroke-width="0.45">ДЛЯ</text>
<text x="261.5" y="614.6" style="font-family:&quot;Liberation Sans&quot;,sans-serif;font-size:9px;font-style:italic;font-weight:bold;" fill="#111" text-anchor="start" textLength="44.0" lengthAdjust="spacingAndGlyphs" stroke="#111" stroke-width="0.45">ЕМКОСТЕЙ</text>
<text x="313.3" y="600.0" style="font-family:&quot;Liberation Sans&quot;,sans-serif;font-size:11.5px;font-style:italic;" fill="#111" text-anchor="start" textLength="22.8" lengthAdjust="spacingAndGlyphs" stroke="#111" stroke-width="0.45">V=63</text>
<text x="341.4" y="600.0" style="font-family:&quot;Liberation Sans&quot;,sans-serif;font-size:9px;font-style:italic;font-weight:bold;" fill="#111" text-anchor="start" textLength="5.8" lengthAdjust="spacingAndGlyphs" stroke="#111" stroke-width="0.45">М</text>
<text x="349.3" y="593.5" style="font-family:&quot;Liberation Sans&quot;,sans-serif;font-size:8.5px;font-style:italic;font-weight:bold;" fill="#111" text-anchor="start" stroke="#111" stroke-width="0.45">3</text>
<text x="357.2" y="600.0" style="font-family:&quot;Liberation Sans&quot;,sans-serif;font-size:9px;font-style:italic;font-weight:bold;" fill="#111" text-anchor="start" textLength="4.8" lengthAdjust="spacingAndGlyphs" stroke="#111" stroke-width="0.45">И</text>
<text x="369.0" y="600.0" style="font-family:&quot;Liberation Sans&quot;,sans-serif;font-size:11.5px;font-style:italic;" fill="#111" text-anchor="start" textLength="23.3" lengthAdjust="spacingAndGlyphs" stroke="#111" stroke-width="0.45">V=40</text>
<text x="398.4" y="600.0" style="font-family:&quot;Liberation Sans&quot;,sans-serif;font-size:9px;font-style:italic;font-weight:bold;" fill="#111" text-anchor="start" textLength="5.8" lengthAdjust="spacingAndGlyphs" stroke="#111" stroke-width="0.45">М</text>
<text x="406.3" y="593.5" style="font-family:&quot;Liberation Sans&quot;,sans-serif;font-size:8.5px;font-style:italic;font-weight:bold;" fill="#111" text-anchor="start" stroke="#111" stroke-width="0.45">3</text>
<text x="415.0" y="600.0" style="font-family:&quot;Liberation Sans&quot;,sans-serif;font-size:11.5px;font-style:italic;" fill="#111" text-anchor="start" textLength="5.5" lengthAdjust="spacingAndGlyphs" stroke="#111" stroke-width="0.45">2</text>
<text x="426.0" y="600.0" style="font-family:&quot;Liberation Sans&quot;,sans-serif;font-size:9px;font-style:italic;font-weight:bold;" fill="#111" text-anchor="start" textLength="81.5" lengthAdjust="spacingAndGlyphs" stroke="#111" stroke-width="0.45">КОНСТРУКТИВНОГО</text>
<text x="512.6" y="600.0" style="font-family:&quot;Liberation Sans&quot;,sans-serif;font-size:9px;font-style:italic;font-weight:bold;" fill="#111" text-anchor="start" textLength="59.8" lengthAdjust="spacingAndGlyphs" stroke="#111" stroke-width="0.45">ИСПОЛНЕНИЯ.</text>
<text x="313.3" y="614.6" style="font-family:&quot;Liberation Sans&quot;,sans-serif;font-size:11.5px;font-style:italic;" fill="#111" text-anchor="start" textLength="17.5" lengthAdjust="spacingAndGlyphs" stroke="#111" stroke-width="0.45">V=8</text>
<text x="336.0" y="614.6" style="font-family:&quot;Liberation Sans&quot;,sans-serif;font-size:9px;font-style:italic;font-weight:bold;" fill="#111" text-anchor="start" textLength="5.5" lengthAdjust="spacingAndGlyphs" stroke="#111" stroke-width="0.45">М</text>
<text x="343.6" y="610.5" style="font-family:&quot;Liberation Sans&quot;,sans-serif;font-size:7.5px;font-style:italic;font-weight:bold;" fill="#111" text-anchor="start" stroke="#111" stroke-width="0.45">3</text>
<text x="348.5" y="614.6" style="font-family:&quot;Liberation Sans&quot;,sans-serif;font-size:11px;font-style:italic;font-weight:bold;" fill="#111" text-anchor="start" stroke="#111" stroke-width="0.45">.</text>
<text x="426.0" y="627.5" style="font-family:&quot;Liberation Sans&quot;,sans-serif;font-size:21px;font-style:italic;" fill="#111" text-anchor="start" textLength="55.0" lengthAdjust="spacingAndGlyphs" stroke="#111" stroke-width="0.12">Черт. 2</text>
</svg></body></html>
